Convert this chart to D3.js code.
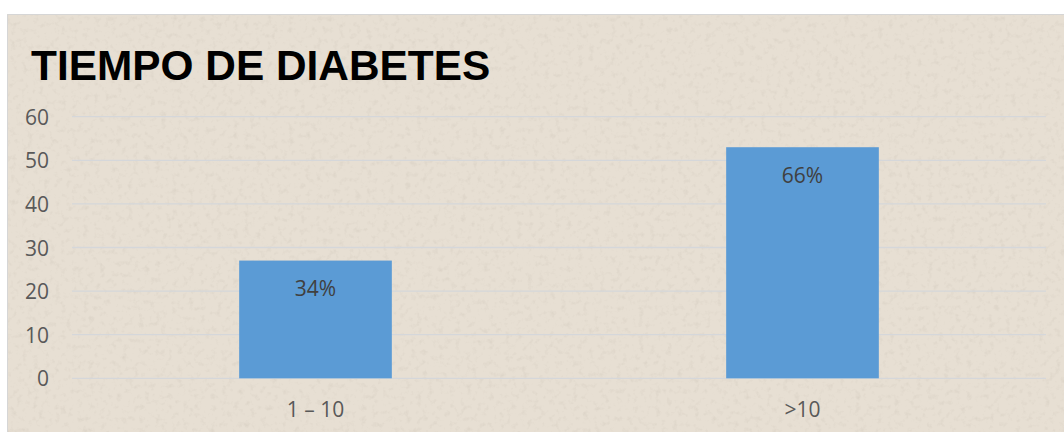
<!DOCTYPE html>
<html>
<head>
<meta charset="utf-8">
<script src="https://cdn.jsdelivr.net/npm/d3@7"></script>
<style>
  html, body { margin: 0; padding: 0; background: #ffffff; }
  svg { display: block; }
</style>
</head>
<body>
<div id="chart"></div>
<script>
// ---- data ----
const title = "TIEMPO DE DIABETES";
const categories = ["1 \u2013 10", ">10"];
const values = [27, 53];
const valueLabels = ["34%", "66%"];
const yTicks = [0, 10, 20, 30, 40, 50, 60];

// ---- layout ----
const W = 1064, H = 432;
const plot = { left: 72, right: 1046, top: 116.7, bottom: 378.3 };

const svg = d3.select("#chart").append("svg")
  .attr("width", W).attr("height", H);

const defs = svg.append("defs");
const f = defs.append("filter").attr("id", "paper")
  .attr("x", 0).attr("y", 0).attr("width", "100%").attr("height", "100%");
f.append("feTurbulence").attr("type", "fractalNoise")
  .attr("baseFrequency", "0.18").attr("numOctaves", 3).attr("seed", 7).attr("result", "n");
f.append("feColorMatrix").attr("in", "n").attr("type", "matrix")
  .attr("values", "0 0 0 0 0.50  0 0 0 0 0.45  0 0 0 0 0.38  0 0 0 -2.2 1.05")
  .attr("result", "c");
f.append("feComposite").attr("in", "c").attr("in2", "SourceGraphic").attr("operator", "in");

// chart background
svg.append("rect").attr("x", 7).attr("y", 14).attr("width", W - 7).attr("height", H - 14)
  .attr("fill", "#e7dfd3");
svg.append("rect").attr("x", 7).attr("y", 14).attr("width", W - 7).attr("height", H - 14)
  .attr("fill", "#e7dfd3").attr("filter", "url(#paper)").attr("opacity", 0.25);
// border
svg.append("path").attr("d", `M7.5,${H} V14.5 H${W}`)
  .attr("fill", "none").attr("stroke", "#d6d6d6").attr("stroke-width", 1);

// scales
const y = d3.scaleLinear().domain([0, 60]).range([plot.bottom, plot.top]);
const gapRatio = 1 - 1 / 3.19;
const x = d3.scaleBand().domain(categories).range([plot.left, plot.right])
  .paddingInner(gapRatio).paddingOuter(gapRatio / 2);

// gridlines
svg.append("g").selectAll("line").data(yTicks).join("line")
  .attr("x1", plot.left).attr("x2", plot.right)
  .attr("y1", d => y(d)).attr("y2", d => y(d))
  .attr("stroke", "#d5d7da").attr("stroke-width", 1.3);

// y axis labels
const yAxis = d3.axisLeft(y).tickValues(yTicks).tickSize(0).tickPadding(0);
const yg = svg.append("g").attr("transform", `translate(49,0)`).call(yAxis);
yg.select(".domain").remove();
yg.selectAll("text")
  .attr("font-family", "'Open Sans', sans-serif").attr("font-size", 21)
  .attr("fill", "#595959").attr("dy", "0.36em");

// bars
svg.append("g").selectAll("rect").data(values).join("rect")
  .attr("x", (d, i) => x(categories[i]))
  .attr("width", x.bandwidth())
  .attr("y", d => y(d))
  .attr("height", d => y(0) - y(d))
  .attr("fill", "#5b9bd5");

// value labels
svg.append("g").selectAll("text").data(values).join("text")
  .attr("x", (d, i) => x(categories[i]) + x.bandwidth() / 2)
  .attr("y", d => y(d) + 35.5)
  .attr("text-anchor", "middle")
  .attr("font-family", "'Open Sans', sans-serif").attr("font-size", 21)
  .attr("fill", "#404040")
  .text((d, i) => valueLabels[i]);

// x axis labels
const xAxis = d3.axisBottom(x).tickSize(0).tickPadding(0);
const xg = svg.append("g").attr("transform", `translate(0,${plot.bottom})`).call(xAxis);
xg.select(".domain").remove();
xg.selectAll("text")
  .attr("font-family", "'Open Sans', sans-serif").attr("font-size", 21)
  .attr("fill", "#595959").attr("dy", null).attr("y", 39);

// title
svg.append("text").attr("x", 31).attr("y", 80)
  .attr("font-family", "'Liberation Sans', Arial, sans-serif")
  .attr("font-weight", "bold").attr("font-size", 42.4)
  .attr("fill", "#000000")
  .text(title);
</script>
</body>
</html>
